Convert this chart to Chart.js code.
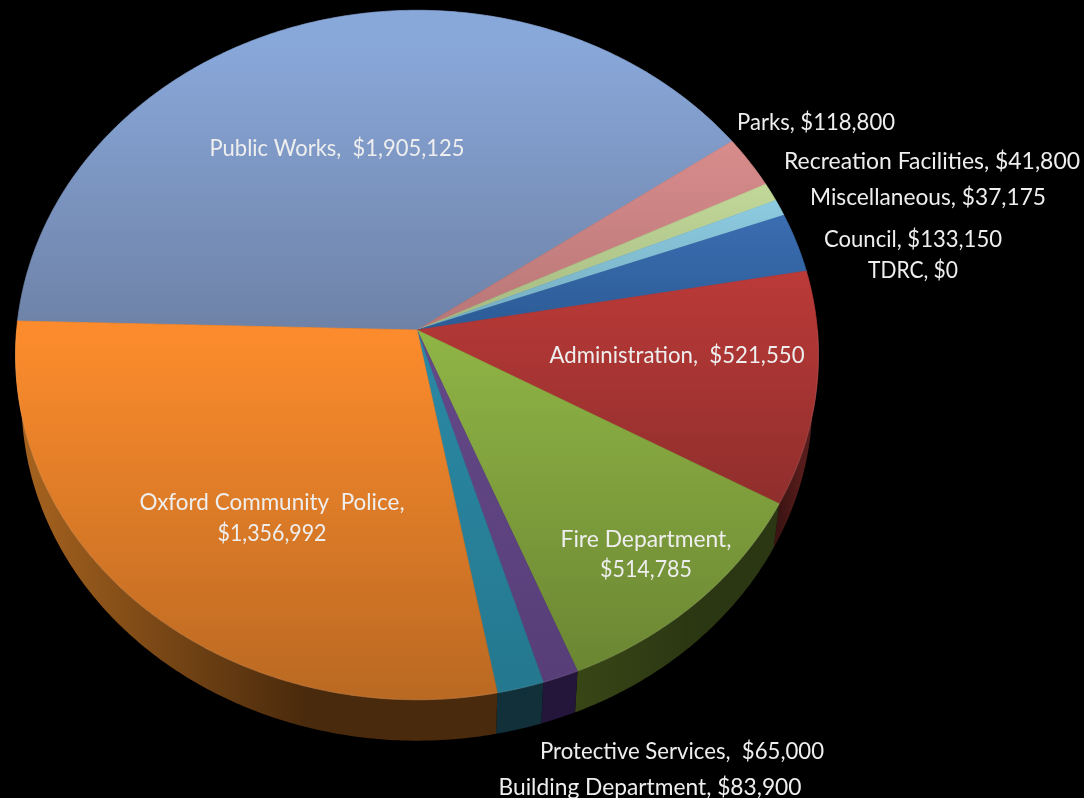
<!DOCTYPE html>
<html>
<head>
<meta charset="utf-8">
<title>Budget by department</title>
<script src="https://cdn.jsdelivr.net/npm/chart.js@4"></script>
<style>
  html, body { margin: 0; padding: 0; background: #000; overflow: hidden; }
  #pie { display: block; margin-top: -72px; filter: blur(0.4px); }
</style>
</head>
<body>
<canvas id="pie" width="1084" height="870"></canvas>
<script>
const categories = ['Public Works', 'Parks', 'Recreation Facilities', 'Miscellaneous', 'Council', 'TDRC',
  'Administration', 'Fire Department', 'Protective Services', 'Building Department', 'Oxford Community  Police']
const amounts = [1905125, 118800, 41800, 37175, 133150, 0, 521550, 514785, 65000, 83900, 1356992]

// colours: top face from / to, side from / to
const faceFrom = ['#89a8da', '#d88c8c', '#c3d99a', '#8dcbe0', '#3a6cb0', '#3a6cb0', '#bb3a38', '#90b546', '#644888', '#2b88a4', '#fb8b2c']
const faceTo = ['#6e82a7', '#b87676', '#a3b880', '#74acc0', '#2c5c96', '#2c5c96', '#8e2e2c', '#6b8632', '#573e78', '#24788f', '#b86822']
const gradY = [[40, 330], [140, 330], [180, 330], [200, 330], [220, 330], [270, 270], [270, 510], [330, 670], [340, 690], [340, 700], [340, 710]]
const sideFrom = ['#000', '#000', '#000', '#000', '#000', '#000', '#561c1b', '#2b3612', '#24153a', '#11303a', '#4a2a0c']
const sideTo = ['#000', '#000', '#000', '#000', '#000', '#000', '#3c1413', '#384616', '#24153a', '#11303a', '#a8641f']

// label centres on the page, one [x, y] per line, and the width of each line
const labelPos = [[[337, 149]], [[816, 123]], [[932, 162]], [[928, 198]], [[913, 240]], [[913, 271]],
  [[677, 356]], [[646, 540], [646, 570]], [[682, 752]], [[650, 788]], [[272, 503], [272, 534]]]
const labelWidth = [[255], [158], [296], [236], [178], [90], [255], [171, 92], [284], [303], [265, 109]]

const canvasTop = 72
// perspective of the tilted disc: near side larger than far side
const tilt = 0.0725
const flatten = 0.853
const narrow = 0.996
const depthScale = 0.985
const depthShift = 46.5

function money(v) {
  return '$' + v.toLocaleString('en-US')
}

function labelLines(i) {
  const name = categories[i]
  if (labelPos[i].length > 1) return [name + ',', money(amounts[i])]
  const gap = (i === 0 || i === 6 || i === 8) ? ',  ' : ', '
  return [name + gap + money(amounts[i])]
}

// angle on the disc to canvas point
function project(p, angle, lower) {
  const u = Math.cos(angle)
  const v = Math.sin(angle)
  const w = 1 / (1 - tilt * v)
  const x = u * w * p.outerRadius * narrow
  const y = v * w * p.outerRadius * flatten
  if (lower) return [p.x + x * depthScale, p.y + depthShift + y * depthScale]
  return [p.x + x, p.y + y]
}

function traceEdge(ctx, p, from, to, lower) {
  const steps = Math.max(2, Math.ceil(Math.abs(to - from) / 0.01))
  for (let s = 0; s <= steps; s++) {
    const pt = project(p, from + (to - from) * s / steps, lower)
    ctx.lineTo(pt[0], pt[1])
  }
}

function faceFill(c) {
  const chart = c.chart
  if (!chart.chartArea) return '#000'
  const i = c.dataIndex
  const g = chart.ctx.createLinearGradient(0, gradY[i][0] + canvasTop, 0, gradY[i][1] + canvasTop)
  g.addColorStop(0, faceFrom[i])
  g.addColorStop(1, faceTo[i])
  return g
}

const pie3d = {
  id: 'pie3d',
  beforeDatasetDraw(chart, args) {
    const ctx = chart.ctx
    const arcs = chart.getDatasetMeta(args.index).data
    const props = arcs.map((arc) => arc.getProps(['x', 'y', 'startAngle', 'endAngle', 'outerRadius'], true))
    // sides first, the top face goes over them
    props.forEach((p, i) => {
      const a0 = Math.max(p.startAngle, Math.PI * 2)
      const a1 = Math.min(p.endAngle, Math.PI * 3)
      if (a1 <= a0) return
      const g = ctx.createLinearGradient(project(p, a0)[0], 0, project(p, a1)[0], 0)
      g.addColorStop(0, sideFrom[i])
      g.addColorStop(0.4, sideFrom[i])
      g.addColorStop(1, sideTo[i])
      ctx.beginPath()
      traceEdge(ctx, p, a0, a1, false)
      traceEdge(ctx, p, a1, a0, true)
      ctx.closePath()
      ctx.fillStyle = g
      ctx.fill()
    })
    props.forEach((p, i) => {
      if (p.endAngle <= p.startAngle) return
      const style = arcs[i].options.backgroundColor
      ctx.beginPath()
      ctx.moveTo(p.x, p.y)
      traceEdge(ctx, p, p.startAngle, p.endAngle, false)
      ctx.closePath()
      ctx.fillStyle = style
      ctx.fill()
      ctx.strokeStyle = style
      ctx.lineWidth = 0.7
      ctx.stroke()
    })
    // thin highlight along the front rim
    props.forEach((p) => {
      const a0 = Math.max(p.startAngle, Math.PI * 2)
      const a1 = Math.min(p.endAngle, Math.PI * 3)
      if (a1 <= a0) return
      ctx.beginPath()
      traceEdge(ctx, p, a0, a1, false)
      ctx.strokeStyle = 'rgba(255,255,255,0.09)'
      ctx.lineWidth = 1.2
      ctx.stroke()
    })
    return false
  },
  afterDatasetsDraw(chart) {
    const ctx = chart.ctx
    ctx.save()
    ctx.font = '23px Lato'
    ctx.fillStyle = '#eeeeee'
    ctx.textAlign = 'center'
    ctx.textBaseline = 'middle'
    categories.forEach((name, i) => {
      labelLines(i).forEach((line, n) => {
        ctx.fillText(line, labelPos[i][n][0], labelPos[i][n][1] + canvasTop, labelWidth[i][n])
      })
    })
    ctx.restore()
  },
}

new Chart(document.getElementById('pie'), {
  type: 'pie',
  data: {
    labels: categories,
    datasets: [{
      data: amounts,
      backgroundColor: faceFill,
      borderWidth: 0,
    }],
  },
  options: {
    responsive: false,
    animation: false,
    rotation: 271.5,
    layout: { padding: { top: 0, bottom: 66, left: 0, right: 250 } },
    plugins: { legend: { display: false }, tooltip: { enabled: false } },
  },
  plugins: [pie3d],
})
</script>
</body>
</html>
